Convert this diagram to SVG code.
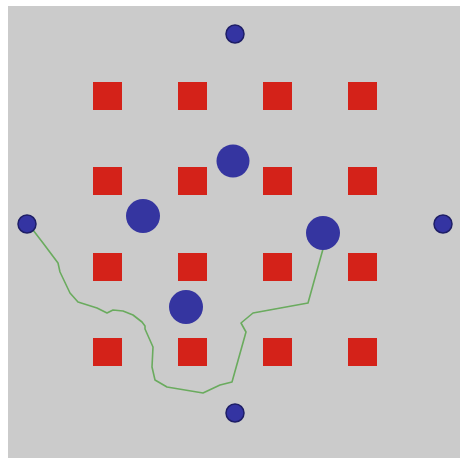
<svg xmlns="http://www.w3.org/2000/svg" width="460" height="458" viewBox="0 0 460 458">
<style>
.sq{fill:#d42219}
.big{fill:#3535a0}
.small{fill:#3434a2;stroke:#1e1e66;stroke-width:1.5}
.path{fill:none;stroke:#6aab5e;stroke-width:1.6;stroke-linejoin:round}
</style>
<rect x="0" y="0" width="460" height="458" fill="#ffffff"/>
<rect x="8" y="6" width="452" height="452" fill="#cbcbcb"/>
<g id="squares">
<rect class="sq" x="93" y="82" width="29" height="28"/>
<rect class="sq" x="178" y="82" width="29" height="28"/>
<rect class="sq" x="263" y="82" width="29" height="28"/>
<rect class="sq" x="348" y="82" width="29" height="28"/>
<rect class="sq" x="93" y="167" width="29" height="28"/>
<rect class="sq" x="178" y="167" width="29" height="28"/>
<rect class="sq" x="263" y="167" width="29" height="28"/>
<rect class="sq" x="348" y="167" width="29" height="28"/>
<rect class="sq" x="93" y="253" width="29" height="28"/>
<rect class="sq" x="178" y="253" width="29" height="28"/>
<rect class="sq" x="263" y="253" width="29" height="28"/>
<rect class="sq" x="348" y="253" width="29" height="28"/>
<rect class="sq" x="93" y="338" width="29" height="28"/>
<rect class="sq" x="178" y="338" width="29" height="28"/>
<rect class="sq" x="263" y="338" width="29" height="28"/>
<rect class="sq" x="348" y="338" width="29" height="28"/>
</g>
<g id="connectors">
<path class="path" d="M33,230 L43,243 L58,263 L60,272 L70,293 L78,302 L97,308 L107,313 L113,310 L123,311 L133,315 L142,322 L145,326 L145,329 L153,347 L152,367 L155,380 L167,387 L203,393 L220,385 L232,382 L246,332 L241,323 L253,313 L308,303 L323,249"/>
</g>
<g id="big-circles">
<circle class="big" cx="233" cy="161" r="16.5"/>
<circle class="big" cx="143" cy="216" r="17"/>
<circle class="big" cx="323" cy="233" r="17"/>
<circle class="big" cx="186" cy="307" r="17"/>
</g>
<g id="small-circles">
<circle class="small" cx="235" cy="34" r="9"/>
<circle class="small" cx="235" cy="413" r="9"/>
<circle class="small" cx="27" cy="224" r="9"/>
<circle class="small" cx="443" cy="224" r="9"/>
</g>
</svg>
